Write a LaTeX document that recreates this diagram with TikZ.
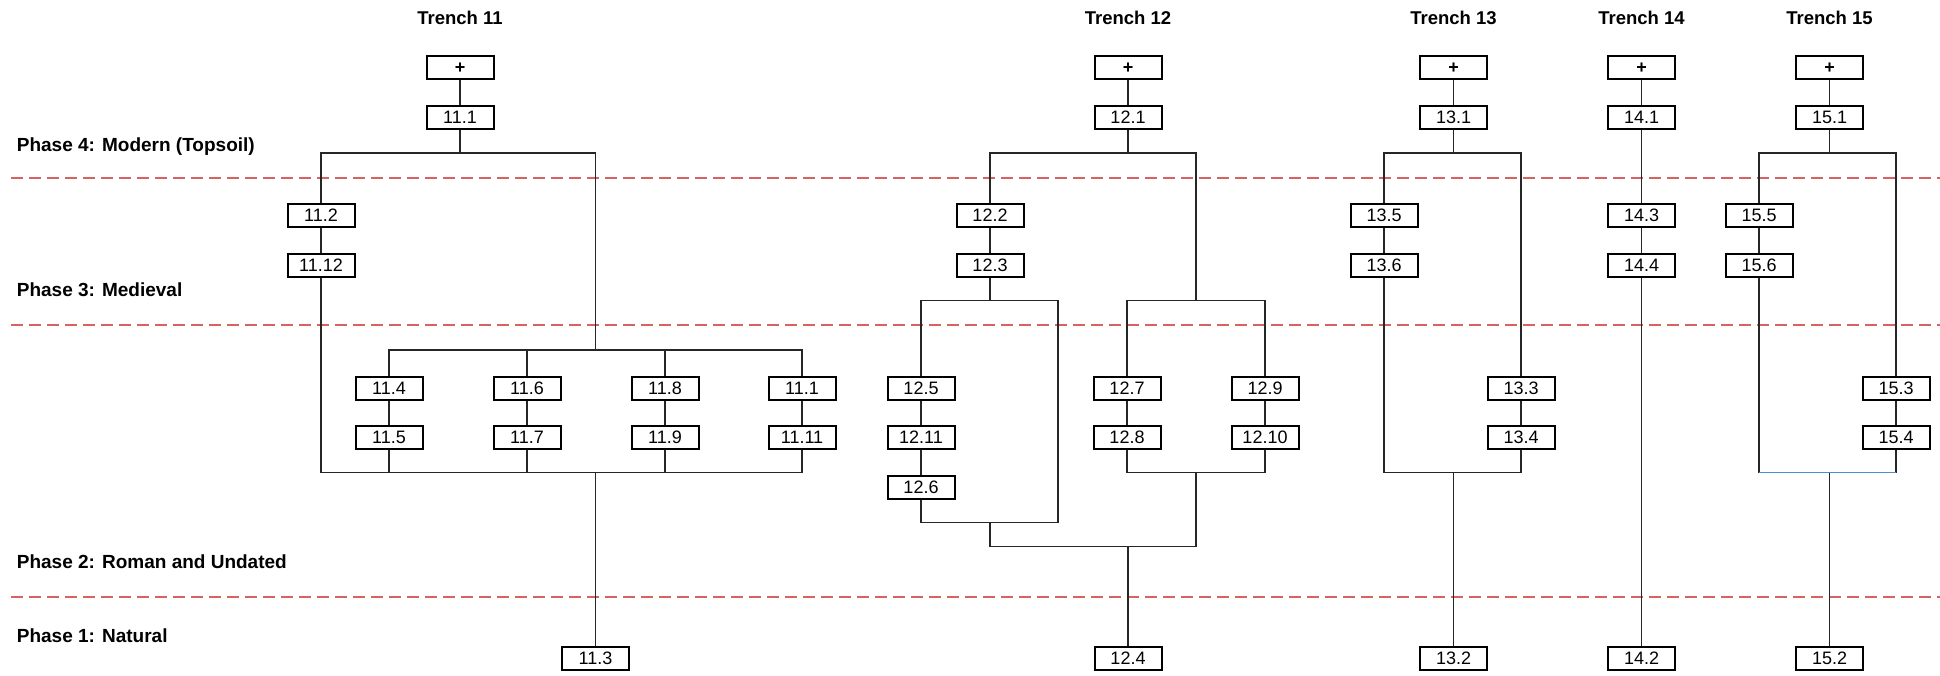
\documentclass[tikz,border=0pt]{standalone}
\usepackage{fontspec}
\setmainfont{Liberation Sans}
\definecolor{phasered}{RGB}{214,98,98}
\definecolor{barblue}{RGB}{80,140,210}

\begin{document}
\begin{tikzpicture}[x=1pt,y=-1pt,
    ctxbox/.style={draw=black, line width=2pt, fill=white, minimum width=67pt, minimum height=23pt, inner sep=0pt, font=\fontsize{18}{20}\selectfont},
    plusbox/.style={ctxbox, font=\fontsize{18}{20}\selectfont\bfseries},
    link/.style={draw=black!85, line width=1.4pt},
    phaseline/.style={draw=phasered, line width=1.4pt, dash pattern=on 12pt off 6pt},
    phaselabel/.style={anchor=base west, inner sep=0pt, font=\fontsize{19}{22}\selectfont\bfseries},
    trenchtitle/.style={anchor=base, inner sep=0pt, font=\fontsize{18.5}{22}\selectfont\bfseries}]

        \useasboundingbox (0,0) rectangle (1940,676);

        % phases
        \draw[phaseline] (11,178) -- (1940,178);
        \draw[phaseline] (11,325) -- (1940,325);
        \draw[phaseline] (11,597) -- (1940,597);

        \node[phaselabel] (ph4) at (16.7,151.5) {Phase 4: Modern (Topsoil)};
        \node[phaselabel] (ph3) at (16.7,296.7) {Phase 3: Medieval};
        \node[phaselabel] (ph2) at (16.7,568) {Phase 2: Roman and Undated};
        \node[phaselabel] (ph1) at (16.7,642) {Phase 1: Natural};

        % Trench 11
        \node[trenchtitle] (h11) at (460,25) {Trench 11};
        \node[plusbox] (p11) at (460,68) {+};
        \node[ctxbox] (c11-1) at (460,117.5) {11.1};
        \node[ctxbox] (c11-2) at (321,215.5) {11.2};
        \node[ctxbox] (c11-12) at (321,265.5) {11.12};
        \node[ctxbox] (c11-4) at (389,388.5) {11.4};
        \node[ctxbox] (c11-5) at (389,437.5) {11.5};
        \node[ctxbox] (c11-6) at (527,388.5) {11.6};
        \node[ctxbox] (c11-7) at (527,437.5) {11.7};
        \node[ctxbox] (c11-8) at (665,388.5) {11.8};
        \node[ctxbox] (c11-9) at (665,437.5) {11.9};
        \node[ctxbox] (c11-10) at (802,388.5) {11.1};
        \node[ctxbox] (c11-11) at (802,437.5) {11.11};
        \node[ctxbox] (c11-3) at (595.5,658.5) {11.3};

        \coordinate (b11top) at (460,153);
        \coordinate (b11mid) at (595.5,350);
        \coordinate (b11low) at (595.5,472.5);

        \draw[link] (p11) -- (c11-1);
        \draw[link] (c11-1) -- (b11top);
        \draw[link] (c11-2) |- (b11top) -| (b11mid);
        \draw[link] (c11-2) -- (c11-12);
        \draw[link] (c11-4) |- (b11mid) -| (c11-10);
        \draw[link] (c11-6) -- (c11-6 |- b11mid);
        \draw[link] (c11-8) -- (c11-8 |- b11mid);
        \draw[link] (c11-4) -- (c11-5);
        \draw[link] (c11-6) -- (c11-7);
        \draw[link] (c11-8) -- (c11-9);
        \draw[link] (c11-10) -- (c11-11);
        \draw[link] (c11-12) |- (b11low) -| (c11-11);
        \draw[link] (c11-5) -- (c11-5 |- b11low);
        \draw[link] (c11-7) -- (c11-7 |- b11low);
        \draw[link] (c11-9) -- (c11-9 |- b11low);
        \draw[link] (b11low) -- (c11-3);

        % Trench 12
        \node[trenchtitle] (h12) at (1128,25) {Trench 12};
        \node[plusbox] (p12) at (1128,68) {+};
        \node[ctxbox] (c12-1) at (1128,117.5) {12.1};
        \node[ctxbox] (c12-2) at (990,215.5) {12.2};
        \node[ctxbox] (c12-3) at (990,265.5) {12.3};
        \node[ctxbox] (c12-5) at (921,388.5) {12.5};
        \node[ctxbox] (c12-11) at (921,437.5) {12.11};
        \node[ctxbox] (c12-6) at (921,487.5) {12.6};
        \node[ctxbox] (c12-7) at (1127,388.5) {12.7};
        \node[ctxbox] (c12-8) at (1127,437.5) {12.8};
        \node[ctxbox] (c12-9) at (1265,388.5) {12.9};
        \node[ctxbox] (c12-10) at (1265,437.5) {12.10};
        \node[ctxbox] (c12-4) at (1128,658.5) {12.4};

        \coordinate (b12top) at (1128,153);
        \coordinate (b12l) at (990,300.7);
        \coordinate (b12r) at (1196,300.7);
        \coordinate (k12) at (1058,522.3);
        \coordinate (b12lb) at (990,522.3);
        \coordinate (b12rb) at (1196,472.5);
        \coordinate (b12low) at (1128,546.7);

        \draw[link] (p12) -- (c12-1);
        \draw[link] (c12-1) -- (b12top);
        \draw[link] (c12-2) |- (b12top) -| (b12r);
        \draw[link] (c12-2) -- (c12-3);
        \draw[link] (c12-3) -- (b12l);
        \draw[link] (c12-5) |- (b12l) -| (k12) -| (c12-6);
        \draw[link] (c12-5) -- (c12-11);
        \draw[link] (c12-11) -- (c12-6);
        \draw[link] (c12-7) |- (b12r) -| (c12-9);
        \draw[link] (c12-7) -- (c12-8);
        \draw[link] (c12-9) -- (c12-10);
        \draw[link] (c12-8) |- (b12rb) -| (c12-10);
        \draw[link] (b12lb) |- (b12low);
        \draw[link] (b12rb) |- (b12low);
        \draw[link] (b12low) -- (c12-4);

        % Trench 13
        \node[trenchtitle] (h13) at (1453.5,25) {Trench 13};
        \node[plusbox] (p13) at (1453.5,68) {+};
        \node[ctxbox] (c13-1) at (1453.5,117.5) {13.1};
        \node[ctxbox] (c13-5) at (1384,215.5) {13.5};
        \node[ctxbox] (c13-6) at (1384,265.5) {13.6};
        \node[ctxbox] (c13-3) at (1521,388.5) {13.3};
        \node[ctxbox] (c13-4) at (1521,437.5) {13.4};
        \node[ctxbox] (c13-2) at (1453.5,658.5) {13.2};

        \coordinate (b13top) at (1453.5,153);
        \coordinate (b13low) at (1453.5,472.5);

        \draw[link] (p13) -- (c13-1);
        \draw[link] (c13-1) -- (b13top);
        \draw[link] (c13-5) |- (b13top) -| (c13-3);
        \draw[link] (c13-5) -- (c13-6);
        \draw[link] (c13-3) -- (c13-4);
        \draw[link] (c13-6) |- (b13low) -| (c13-4);
        \draw[link] (b13low) -- (c13-2);

        % Trench 14
        \node[trenchtitle] (h14) at (1641.5,25) {Trench 14};
        \node[plusbox] (p14) at (1641.5,68) {+};
        \node[ctxbox] (c14-1) at (1641.5,117.5) {14.1};
        \node[ctxbox] (c14-3) at (1641.5,215.5) {14.3};
        \node[ctxbox] (c14-4) at (1641.5,265.5) {14.4};
        \node[ctxbox] (c14-2) at (1641.5,658.5) {14.2};

        \draw[link] (p14) -- (c14-1);
        \draw[link] (c14-1) -- (c14-3);
        \draw[link] (c14-3) -- (c14-4);
        \draw[link] (c14-4) -- (c14-2);

        % Trench 15
        \node[trenchtitle] (h15) at (1829.5,25) {Trench 15};
        \node[plusbox] (p15) at (1829.5,68) {+};
        \node[ctxbox] (c15-1) at (1829.5,117.5) {15.1};
        \node[ctxbox] (c15-5) at (1759,215.5) {15.5};
        \node[ctxbox] (c15-6) at (1759,265.5) {15.6};
        \node[ctxbox] (c15-3) at (1896,388.5) {15.3};
        \node[ctxbox] (c15-4) at (1896,437.5) {15.4};
        \node[ctxbox] (c15-2) at (1829.5,658.5) {15.2};

        \coordinate (b15top) at (1829.5,153);
        \coordinate (b15low) at (1829.5,472.5);

        \draw[link] (p15) -- (c15-1);
        \draw[link] (c15-1) -- (b15top);
        \draw[link] (c15-5) |- (b15top) -| (c15-3);
        \draw[link] (c15-5) -- (c15-6);
        \draw[link] (c15-3) -- (c15-4);
        \draw[link] (c15-6) -- (c15-6 |- b15low);
        \draw[link] (c15-4) -- (c15-4 |- b15low);
        \draw[link, draw=barblue] (c15-6 |- b15low) -- (c15-4 |- b15low);
        \draw[link] (b15low) -- (c15-2);

\end{tikzpicture}
\end{document}
